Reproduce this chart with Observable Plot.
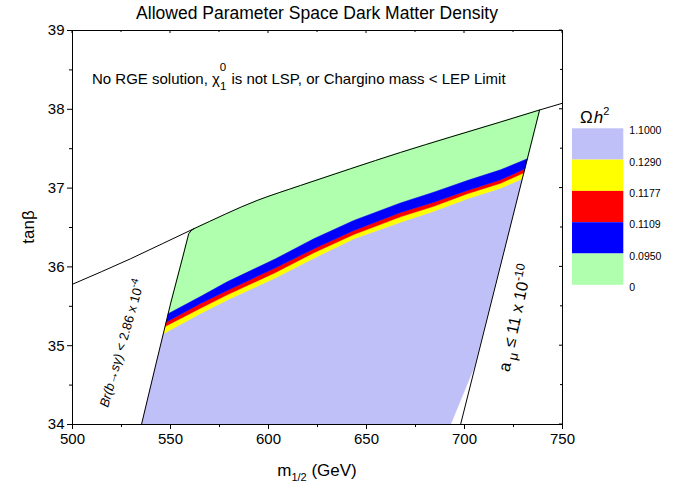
<!DOCTYPE html>
<html><head><meta charset="utf-8">
<script src="https://cdn.jsdelivr.net/npm/d3@7"></script>
<script src="https://cdn.jsdelivr.net/npm/@observablehq/plot@0.6"></script>
<style>
body{margin:0;background:#fff;}
svg{font-family:"Liberation Sans",Arial,sans-serif;}
</style>
</head><body><div id="chart"></div>
<script>
// ---- data ----
const xTicks = [500, 550, 600, 650, 700, 750];
const xMinor = [525, 575, 625, 675, 725];
const yTicks = [34, 35, 36, 37, 38, 39];
const yMinor = [34.5, 35.5, 36.5, 37.5, 38.5];

// "No RGE solution" boundary
const upperX = [500, 529.6, 561.9, 594.2, 616.3, 641.8, 667.3, 692.9, 718.4, 738.3, 750];
const upperY = [35.78, 36.103, 36.484, 36.843, 37.033, 37.245, 37.452, 37.648, 37.839, 37.991, 38.077];
// Br(b->s gamma) boundary
const brX = [535.2, 542.7, 550, 556, 559.3, 560.5, 561.9];
const brY = [34, 34.78, 35.53, 36.1, 36.42, 36.46, 36.484];
// a_mu boundary
const amuX = [698, 738.3];
const amuY = [34, 37.99];
// lower-right edge of the computed region
const cutX = [705, 692.9];
const cutY = [34.73, 34];

// relic density contours (interior x; each series: left end y, interior ys, right end y)
const bandX = [565.3, 578.9, 603.6, 623.1, 643.5, 667.3, 684.3, 701.4, 718.4];
const omega0950 = [35.405, 35.624, 35.810, 36.103, 36.357, 36.589, 36.811, 36.948, 37.096, 37.232, 37.372];
const omega1109 = [35.298, 35.536, 35.700, 35.990, 36.230, 36.462, 36.690, 36.821, 36.970, 37.105, 37.245];
const omega1177 = [35.244, 35.476, 35.645, 35.930, 36.179, 36.411, 36.636, 36.770, 36.928, 37.062, 37.194];
const omega1290 = [35.151, 35.409, 35.580, 35.862, 36.110, 36.357, 36.567, 36.707, 36.864, 36.999, 37.118];

const legendLabels = ["1.1000", "0.1290", "0.1177", "0.1109", "0.0950", "0"];
const legendColors = ["#C0C0F8", "#FFFF00", "#FF0000", "#0000FF", "#AFFFAF"];

// ---- helpers ----
function xAtY(xs, ys, y) {
  for (let i = 0; i < ys.length - 1; i++) {
    const a = ys[i], b = ys[i + 1];
    if ((y >= a && y <= b) || (y <= a && y >= b)) {
      return xs[i] + (xs[i + 1] - xs[i]) * (y - a) / (b - a);
    }
  }
  return xs[xs.length - 1];
}
const pts = (xs, ys) => xs.map((x, i) => ({x, y: ys[i]}));
function curve(ys) {
  const n = ys.length;
  return [
    {x: xAtY(brX, brY, ys[0]), y: ys[0]},
    ...bandX.map((x, i) => ({x, y: ys[i + 1]})),
    {x: xAtY(amuX, amuY, ys[n - 1]), y: ys[n - 1]}
  ];
}
const cTop = curve(omega0950), cBlue = curve(omega1109), cRed = curve(omega1177), cYel = curve(omega1290);

const lavPoly = [
  ...pts(brX, brY).filter(p => p.y < cYel[0].y),
  ...cYel,
  ...pts(cutX, cutY)
];
const yelPoly = [...cYel, ...cRed.slice().reverse()];
const redPoly = [...cRed, ...cBlue.slice().reverse()];
const bluePoly = [...cBlue, ...cTop.slice().reverse()];
const greenPoly = [
  ...cTop,
  {x: amuX[1], y: amuY[1]},
  ...pts(upperX, upperY).filter(p => p.x < amuX[1] && p.x >= brX[brX.length - 1]).reverse(),
  ...pts(brX, brY).filter(p => p.y > cTop[0].y && p.y < brY[brY.length - 1]).reverse()
];

const poly = (d, fill, sw = 0.5) => Plot.line(d, {x: "x", y: "y", fill, stroke: fill, strokeWidth: sw});

const plot = Plot.plot({
  width: 681, height: 487,
  marginLeft: 72, marginRight: 119, marginTop: 30, marginBottom: 63,
  x: {domain: [500, 750]},
  y: {domain: [34, 39]},
  style: {fontFamily: '"Liberation Sans", Arial, sans-serif', fontSize: "15px", color: "#000", background: "#fff"},
  marks: [
    poly(greenPoly, legendColors[4], 1.6),
    poly(lavPoly, legendColors[0]),
    poly(yelPoly, legendColors[1]),
    poly(redPoly, legendColors[2]),
    poly(bluePoly, legendColors[3]),
    Plot.line(pts(upperX, upperY), {x: "x", y: "y", stroke: "#000", strokeWidth: 1, curve: "monotone-x"}),
    Plot.line(pts(brX, brY), {x: "x", y: "y", stroke: "#000", strokeWidth: 1}),
    Plot.line(pts(amuX, amuY), {x: "x", y: "y", stroke: "#000", strokeWidth: 1}),
    Plot.frame({stroke: "#000", strokeWidth: 1}),
    Plot.axisX({ticks: xTicks, tickSize: 5, tickPadding: 4, label: null, fontSize: 15}),
    Plot.axisX({ticks: xMinor, tickSize: 3, tickFormat: () => "", label: null}),
    Plot.axisY({ticks: yTicks, tickSize: 5, tickPadding: 3, label: null, fontSize: 15, tickFormat: d3.format("d")}),
    Plot.axisY({ticks: yMinor, tickSize: 3, tickFormat: () => "", label: null})
  ]
});
document.getElementById("chart").appendChild(plot);

// ---- extras via scales ----
const sx = plot.scale("x"), sy = plot.scale("y");
const svg = d3.select(plot);
const X = v => sx.apply(v), Y = v => sy.apply(v);
const pTop = Y(39), pBottom = Y(34), pLeft = X(500), pRight = X(750);
const g = svg.append("g").attr("stroke", "#000").attr("stroke-width", 1);
[...xTicks, ...xMinor].forEach(v => {
  const len = xTicks.includes(v) ? 3 : 2;
  g.append("line").attr("x1", X(v)).attr("x2", X(v)).attr("y1", pTop).attr("y2", pTop + len);
});
[...yTicks, ...yMinor].forEach(v => {
  const len = yTicks.includes(v) ? 3 : 2;
  g.append("line").attr("x1", pRight).attr("x2", pRight - len).attr("y1", Y(v)).attr("y2", Y(v));
});

// title
svg.append("text").attr("x", (pLeft + pRight) / 2).attr("y", 19).attr("text-anchor", "middle")
  .attr("font-size", 17.5).text("Allowed Parameter Space Dark Matter Density");

// axis labels
const xl = svg.append("text").attr("x", (pLeft + pRight) / 2).attr("y", 476).attr("text-anchor", "middle").attr("font-size", 17);
xl.append("tspan").text("m");
xl.append("tspan").attr("font-size", 11).attr("dy", 5).text("1/2");
xl.append("tspan").attr("dy", -5).text(" (GeV)");
svg.append("text").attr("transform", `translate(34,${(pTop + pBottom) / 2}) rotate(-90)`)
  .attr("text-anchor", "middle").attr("font-size", 17).text("tanβ");

// No RGE annotation
const t1 = svg.append("text").attr("x", X(510.2)).attr("y", Y(38.315)).attr("font-size", 15).attr("text-anchor", "start");
t1.append("tspan").text("No RGE solution, χ");
t1.append("tspan").attr("font-size", 11.5).attr("dy", 6).text("1");
t1.append("tspan").attr("font-size", 11.5).attr("dx", -6.5).attr("dy", -19).text("0");
t1.append("tspan").attr("dy", 13).attr("dx", 1).text(" is not LSP, or Chargino mass < LEP Limit");

// Br label
const t2 = svg.append("text").attr("transform", `translate(${X(525.4)},${Y(35.024)}) rotate(-74)`)
  .attr("text-anchor", "middle").attr("dy", "0.35em").attr("font-size", 13);
t2.append("tspan").attr("font-style", "italic").text("Br(b→sγ)");
t2.append("tspan").text(" < 2.86 x 10");
t2.append("tspan").attr("font-size", 10).attr("dy", -6).text("-4");

// a_mu label
const t3 = svg.append("text").attr("transform", `translate(${X(726)},${Y(35.345)}) rotate(-78)`)
  .attr("text-anchor", "middle").attr("dy", "0.35em").attr("font-size", 16.5);
t3.append("tspan").text("a");
t3.append("tspan").attr("font-size", 13).attr("dy", 5).text(" μ");
t3.append("tspan").attr("dy", -5).text(" ≤ 11 x 10");
t3.append("tspan").attr("font-size", 12).attr("dy", -7).text("-10");

// legend
const lg = svg.append("g").attr("text-anchor", "start");
const lx = 572, ly = 128.3, lw = 51.3, lh = 31.3;
legendColors.forEach((c, i) => {
  lg.append("rect").attr("x", lx).attr("y", ly + i * lh).attr("width", lw).attr("height", lh).attr("fill", c);
});
legendLabels.forEach((s, i) => {
  lg.append("text").attr("x", lx + lw + 6).attr("y", ly + i * lh + 6).attr("font-size", 10.5).text(s);
});
const om = lg.append("text").attr("x", 580).attr("y", 123).attr("font-size", 17);
om.append("tspan").text("Ω");
om.append("tspan").attr("font-style", "italic").attr("dx", 1).text("h");
om.append("tspan").attr("font-size", 11).attr("dy", -8).text("2");
</script>
</body></html>
